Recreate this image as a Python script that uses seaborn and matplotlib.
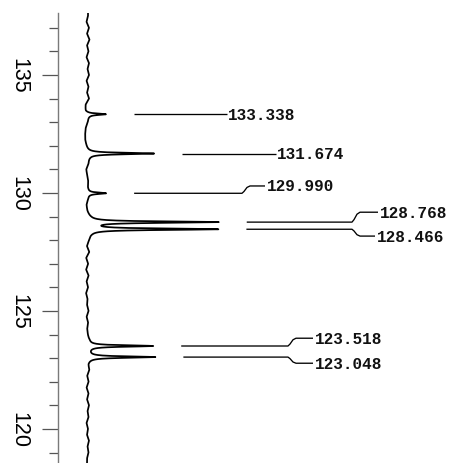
import numpy as np
import pandas as pd
import matplotlib
matplotlib.use("Agg")
import matplotlib.pyplot as plt
import seaborn as sns

# 13C peak list: chemical shift (ppm), peak height (plot units)
shifts = [133.338, 131.674, 129.990, 128.768, 128.466, 123.518, 123.048]
heights = [19, 67, 18, 129, 129, 65, 67]
shift_labels = ["133.338", "131.674", "129.990", "128.768", "128.466", "123.518", "123.048"]
line_hwhm = 0.035  # Lorentzian half width (ppm)

# baseline trace, sampled every 0.25 ppm from 137.5 down to 118.75
baseline_ppm = [137.50 - 0.25 * i for i in range(76)]
baseline_offset = [
    0, -1.5, 1, -1, 1.5, -1, 0.5, -1.5, 1, -0.5,
    1, -1.5, 0.5, -1, 1, -2.5, -3, 0, -0.5, -2.5,
    -3, -3, -2, -1, 0, 0, -2, -1, 0, -0.5,
    0, -0.5, -2, -1.5, 0, 0, 0, 0.5, 0, -1.5,
    1, -2, 0, -2, 0.5, -1.5, 0, -2, -0.5, -1,
    0.5, -1.5, 0, -1, -0.5, 0.5, 0, 0, 0, -0.5,
    1, -1, 0.5, -1.5, 0.5, -1, 1, -0.5, 0.5, -1.5,
    0, -1, 1, -0.5, 0.5, -1,
]

major_ticks = [120, 125, 130, 135]
minor_ticks = list(range(119, 138))

# annotation layout (plot units across, ppm offsets up/down)
label_dy = [0, 0, 0.31, 0.42, -0.29, 0.33, -0.26]
bend_x = [None, None, 154, 264, 264, 200, 200]
label_x = [140, 189, 179, 292, 289, 227, 227]
leader_gap = 28

# build the spectrum trace
ppm = np.arange(118.4, 137.8, 0.004)
intensity = np.interp(ppm, baseline_ppm[::-1], baseline_offset[::-1])
for s, h in zip(shifts, heights):
    intensity = intensity + h * line_hwhm**2 / (line_hwhm**2 + (ppm - s) ** 2)
spec = pd.DataFrame({"ppm": ppm, "intensity": intensity})

sns.set_theme(style="white")
plt.rcParams["font.family"] = ["Liberation Sans", "DejaVu Sans"]

fig = plt.figure(figsize=(4.5, 4.64), dpi=100)
ax = fig.add_axes([58 / 450, 0.0, 1 - 58 / 450, 1 - 14 / 464])

sns.lineplot(data=spec, x="intensity", y="ppm", orient="y", estimator=None,
             color="black", lw=1.25, ax=ax)

# leader lines and shift labels
for i, (s, lab) in enumerate(zip(shifts, shift_labels)):
    near = np.abs(ppm - s) < 0.02
    tip = intensity[near].max()
    x0 = tip + leader_gap
    dy = label_dy[i]
    if bend_x[i] is None:
        xs = [x0, label_x[i] - 1]
        ys = [s, s]
    else:
        b = bend_x[i]
        xs = [x0, b, b + 2, b + 5, b + 8, label_x[i] - 2]
        ys = [s, s, s + 0.25 * dy, s + 0.8 * dy, s + dy, s + dy]
    ax.plot(xs, ys, color="black", lw=0.95, solid_capstyle="butt")
    ax.text(label_x[i], s + dy, lab, ha="left", va="center",
            family=["Liberation Mono", "DejaVu Sans Mono"], fontweight="bold",
            fontsize=11.5, color="#111111")

ax.set_xlim(-30, 362)
ax.set_ylim(118.56, 137.63)
ax.set_yticks(major_ticks)
ax.set_yticks(minor_ticks, minor=True)
ax.set_yticklabels([str(t) for t in major_ticks], rotation=270, va="center")
ax.set_xticks([])
ax.set_xlabel("")
ax.set_ylabel("")
for side in ["top", "right", "bottom"]:
    ax.spines[side].set_visible(False)
ax.spines["left"].set_color("#7a7a7a")
ax.spines["left"].set_linewidth(1.0)
ax.tick_params(axis="y", which="major", left=True, length=11.5, width=0.9,
               color="#555555", pad=9, labelsize=15.5, labelcolor="black")
ax.tick_params(axis="y", which="minor", left=True, length=6.5, width=0.9,
               color="#555555")

fig.savefig("out.png", dpi=100)
